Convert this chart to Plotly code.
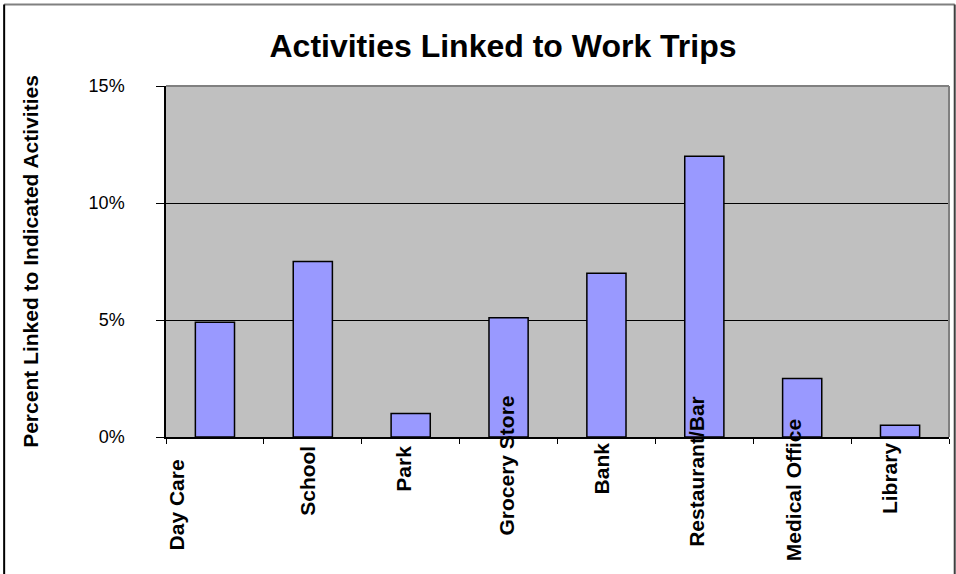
import plotly.graph_objects as go

categories = ["Day Care", "School", "Park", "Grocery Store", "Bank",
              "Restaurant/Bar", "Medical Office", "Library"]
percent_linked = [4.9, 7.5, 1.0, 5.1, 7.0, 12.0, 2.5, 0.5]
y_tick_values = [0, 5, 10, 15]
y_tick_labels = ["0%", "5%", "10%", "15%"]

# label placement quirks of the original (pixel shifts, layout only)
label_xshift = [-38, -6, -8, -3, -5, -8, -9, -11]
label_yshift = [-21, -8, -8, 42, -4, 42, 19, -4]

FONT = "Liberation Sans, Arial, sans-serif"

fig = go.Figure()
fig.add_trace(go.Bar(
    x=categories, y=percent_linked,
    marker=dict(color="#9999FF", line=dict(color="#000000", width=1.5)),
    width=0.4,
    hoverinfo="x+y",
))

for cat, dx, dy in zip(categories, label_xshift, label_yshift):
    fig.add_annotation(
        x=cat, y=0, xref="x", yref="y", text="<b>%s</b>" % cat,
        textangle=-90, showarrow=False, xanchor="center", yanchor="top",
        xshift=dx, yshift=dy, borderpad=0,
        font=dict(family=FONT, size=21, color="#000000"),
    )

# plot-area top/right border (gray) and outer chart frame
fig.add_shape(type="line", xref="paper", yref="paper", x0=0, x1=1, y0=1, y1=1,
              line=dict(color="#808080", width=2), layer="above")
fig.add_shape(type="line", xref="paper", yref="paper", x0=1, x1=1, y0=0, y1=1,
              line=dict(color="#808080", width=2), layer="above")
fig.add_shape(type="line", xref="paper", yref="paper", x0=-0.2067, x1=1.0073,
              y0=1.2322, y1=1.2322, line=dict(color="#808080", width=2))
fig.add_shape(type="line", xref="paper", yref="paper", x0=-0.2067, x1=-0.2067,
              y0=1.2322, y1=-0.45, line=dict(color="#000000", width=2))
fig.add_shape(type="line", xref="paper", yref="paper", x0=1.0073, x1=1.0073,
              y0=1.2322, y1=-0.45, line=dict(color="#404040", width=2))

fig.update_layout(
    width=956, height=574,
    margin=dict(l=166, r=7, t=86, b=137),
    paper_bgcolor="#FFFFFF",
    plot_bgcolor="#C0C0C0",
    showlegend=False,
    title=dict(text="<b>Activities Linked to Work Trips</b>",
               x=503 / 956, xref="container", xanchor="center",
               y=1 - 46 / 574, yref="container", yanchor="middle",
               font=dict(family=FONT, size=32, color="#000000")),
    font=dict(family=FONT, color="#000000"),
)
fig.update_xaxes(
    type="category", showticklabels=False, showgrid=False,
    showline=True, linecolor="#000000", linewidth=1.5,
    ticks="outside", tickson="boundaries", ticklen=5,
    tickcolor="#000000", tickwidth=1,
    range=[-0.5, 7.5],
)
fig.update_yaxes(
    range=[0, 15], tickvals=y_tick_values, ticktext=y_tick_labels,
    showgrid=True, gridcolor="#000000", gridwidth=1, zeroline=False,
    showline=True, linecolor="#000000", linewidth=1.5,
    ticks="outside", ticklen=8, tickcolor="#000000",
    ticklabelstandoff=28,
    tickfont=dict(family=FONT, size=18, color="#000000"),
    title=dict(text="<b>Percent Linked to Indicated Activities</b>",
               font=dict(family=FONT, size=21, color="#000000"),
               standoff=44),
)

fig.write_html(
    "out.html",
    config={"displayModeBar": False},
    post_script="document.body.style.margin='0px';document.body.style.overflow='hidden';",
)
